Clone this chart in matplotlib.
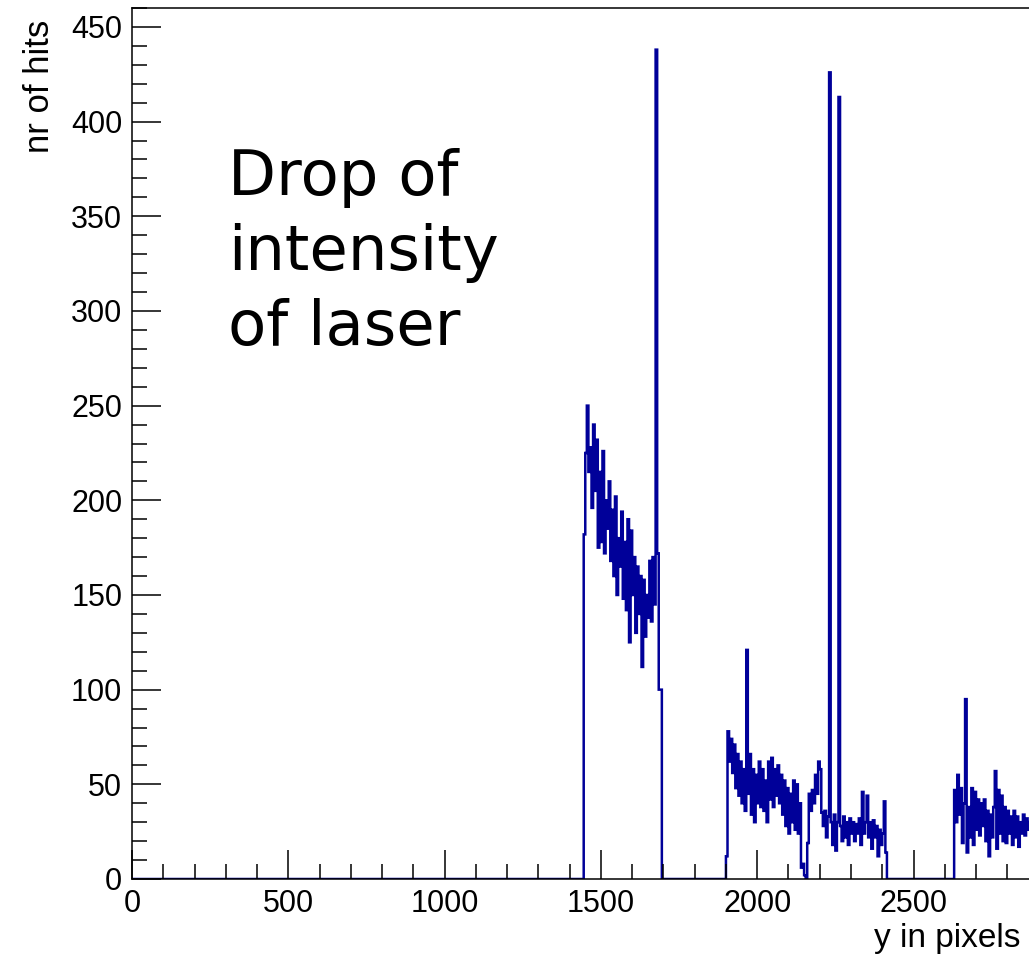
import numpy as np
import matplotlib
matplotlib.use("Agg")
import matplotlib.pyplot as plt
from matplotlib.ticker import MultipleLocator

BIN_WIDTH = 5
X_MAX = 3000
Y_MAX = 460

# first block (bins of 5 starting at 1445), spike at 1675
seg1_start = 1445
seg1_counts = [182,
               225, 250, 215, 228, 196, 240, 205, 232, 175, 215,
               178, 226, 172, 200, 185, 210, 168, 195, 160, 202,
               150, 180, 165, 194, 148, 178, 142, 190, 125, 184,
               150, 170, 130, 165, 140, 160, 112, 158, 128, 150,
               138, 168, 136, 170, 145,
               438, 172, 100, 100]

# second block, spikes at 1965, 2230, 2260
seg2_start = 1900
seg2_counts = [12, 78, 62, 74, 56, 71, 48, 66, 44, 62,
               40, 58, 36, 121, 45, 66, 34, 58, 30, 55,
               40, 62, 38, 58, 36, 52, 30, 62, 42, 64,
               38, 58, 44, 60, 40, 55, 34, 52, 28, 48,
               24, 45, 30, 52, 26, 50, 24, 40, 6, 8,
               2, 0, 19, 45, 36, 47, 40, 55, 45, 62,
               58, 35, 28, 36, 22, 33, 426, 30, 18, 34,
               15, 30, 413, 28, 20, 33, 22, 30, 18, 32,
               24, 30, 20, 29, 24, 32, 18, 46, 24, 30,
               44, 22, 30, 16, 31, 22, 28, 12, 26, 18,
               24, 41, 14]

# third block, running off the right edge
seg3_start = 2630
seg3_counts = [47, 30, 55, 34, 48, 19, 40, 95, 14,
               38, 22, 48, 18, 46, 26, 42, 23, 40, 28,
               42, 20, 36, 12, 34, 22, 38, 57, 16, 47,
               24, 44, 20, 38, 19, 36, 24, 33, 18, 36,
               22, 33, 17, 30, 24, 34, 23, 32, 26, 30]

edges = np.arange(0, X_MAX + BIN_WIDTH, BIN_WIDTH)
counts = np.zeros(len(edges) - 1)
for start, vals in [(seg1_start, seg1_counts),
                    (seg2_start, seg2_counts),
                    (seg3_start, seg3_counts)]:
    i = start // BIN_WIDTH
    counts[i:i + len(vals)] = vals

fig = plt.figure(figsize=(10.29, 9.56), dpi=100)
W, H = 1029, 956
left_px, bottom_px, top_px = 132, 879, 8
width_px = X_MAX * 156.3 / 500
ax = fig.add_axes([left_px / W, (H - bottom_px) / H,
                   width_px / W, (bottom_px - top_px) / H])

ax.stairs(counts, edges, color="#000099", lw=1.8)

ax.set_xlim(0, X_MAX)
ax.set_ylim(0, Y_MAX)

ax.xaxis.set_major_locator(MultipleLocator(500))
ax.xaxis.set_minor_locator(MultipleLocator(100))
ax.yaxis.set_major_locator(MultipleLocator(50))
ax.yaxis.set_minor_locator(MultipleLocator(10))

tick_font = "Liberation Sans"
ax.tick_params(which="both", direction="in", width=1.1, color="black",
               top=False, right=False)
ax.tick_params(which="major", length=21, labelsize=22, pad=7)
ax.tick_params(which="minor", length=11)
for lab in ax.get_xticklabels() + ax.get_yticklabels():
    lab.set_family(tick_font)
# the 3000 label sits past the right edge of the picture
ax.set_xticks(np.arange(0, 2501, 500))

for s in ax.spines.values():
    s.set_linewidth(1.1)

ax.set_ylabel("nr of hits", fontsize=25, family=tick_font, loc="top")
ax.yaxis.set_label_coords(-0.081, 0.986)
ax.set_xlabel("y in pixels", fontsize=24, family=tick_font, ha="right")
ax.xaxis.set_label_coords((1020 - left_px) / width_px, -0.05)

note_lines = ["Drop of", "intensity", "of laser"]
note_baselines = [195, 270, 345]
for txt, yb in zip(note_lines, note_baselines):
    fig.text(228 / W, 1 - yb / H, txt, fontsize=45, family="DejaVu Sans",
             va="baseline", ha="left")

fig.savefig("out.png", dpi=100)
